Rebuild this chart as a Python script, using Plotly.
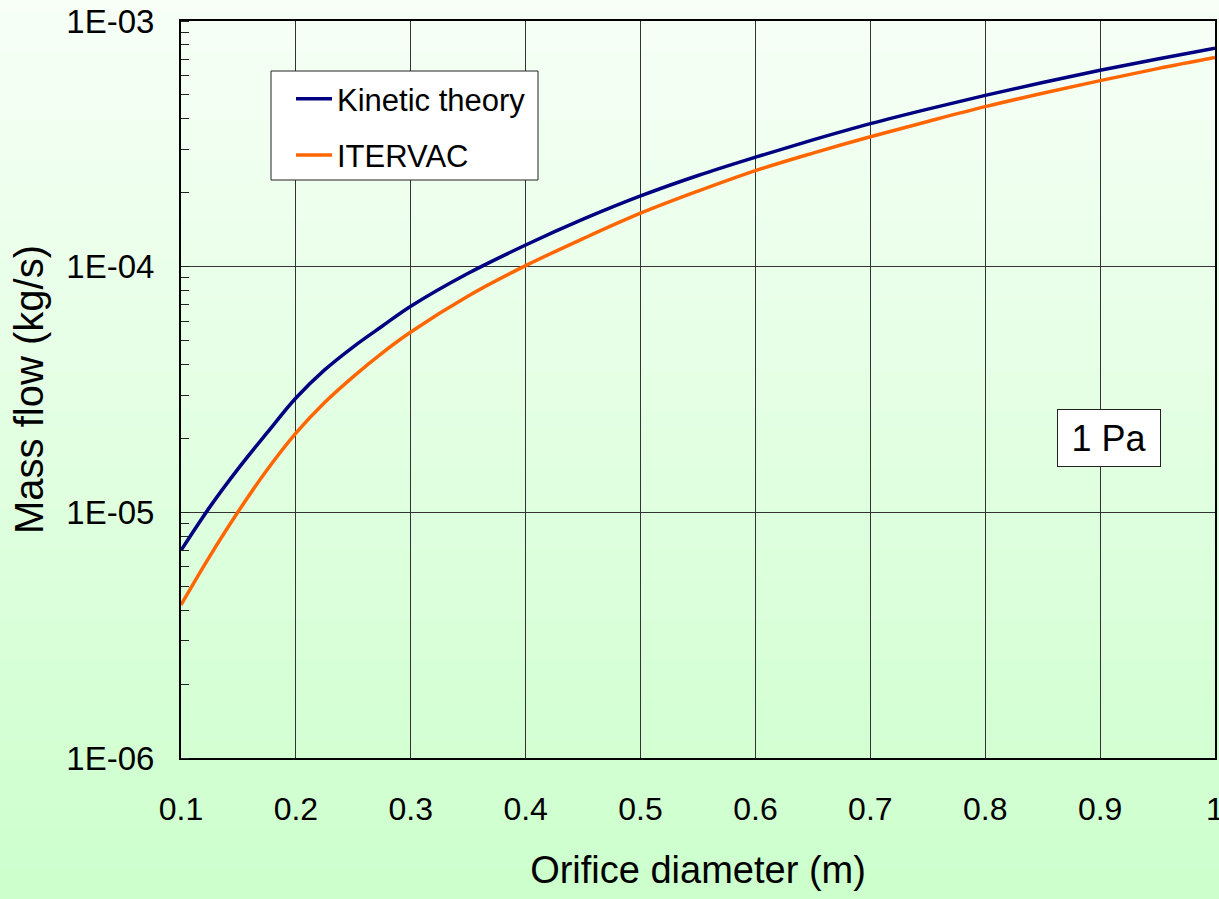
import plotly.graph_objects as go

# ---- data ----
diameter = [0.1, 0.125, 0.15, 0.175, 0.2, 0.225, 0.25, 0.275, 0.3, 0.35, 0.4, 0.45,
            0.5, 0.55, 0.6, 0.65, 0.7, 0.75, 0.8, 0.85, 0.9, 0.95, 1.0]
kinetic = [7.0e-6, 1.05e-5, 1.51e-5, 2.11e-5, 2.92e-5, 3.8e-5, 4.72e-5, 5.72e-5, 6.9e-5,
           9.4e-5, 1.225e-4, 1.56e-4, 1.94e-4, 2.35e-4, 2.79e-4, 3.28e-4, 3.82e-4,
           4.38e-4, 4.98e-4, 5.62e-4, 6.3e-4, 7.0e-4, 7.74e-4]
itervac = [4.2e-6, 6.62e-6, 1.01e-5, 1.49e-5, 2.1e-5, 2.8e-5, 3.57e-5, 4.45e-5, 5.42e-5,
           7.6e-5, 1.01e-4, 1.3e-4, 1.65e-4, 2.03e-4, 2.46e-4, 2.9e-4, 3.38e-4,
           3.9e-4, 4.48e-4, 5.08e-4, 5.72e-4, 6.4e-4, 7.1e-4]
series_names = ["Kinetic theory", "ITERVAC"]
x_tickvals = [0.1, 0.2, 0.3, 0.4, 0.5, 0.6, 0.7, 0.8, 0.9, 1.0]
x_ticktext = ["0.1", "0.2", "0.3", "0.4", "0.5", "0.6", "0.7", "0.8", "0.9", "1"]
y_tickvals = [1e-6, 1e-5, 1e-4, 1e-3]
y_ticktext = ["1E-06", "1E-05", "1E-04", "1E-03"]
annotation_text = "1 Pa"

W, H = 1219, 899
ML, MR, MT, MB = 181, 4, 21, 141
PW, PH = W - ML - MR, H - MT - MB

FONT = "Liberation Sans, Arial, sans-serif"


def px_x(px):
    return (px - ML) / PW


def px_y(py):
    return (H - MB - py) / PH


fig = go.Figure()
fig.add_trace(go.Scatter(x=diameter, y=kinetic, name=series_names[0], mode="lines",
                         line=dict(color="#000080", width=3.5, shape="spline"),
                         legendgroup="a"))
fig.add_trace(go.Scatter(x=diameter, y=itervac, name=series_names[1], mode="lines",
                         line=dict(color="#ff6600", width=3.5, shape="spline"),
                         legendgroup="b"))

# background gradient (white-green to light green), as horizontal bands
shapes = []
nb = 90
top = (247, 255, 247)
bot = (204, 255, 204)
for i in range(nb):
    t = (i + 0.5) / nb
    c = tuple(round(top[k] + (bot[k] - top[k]) * t) for k in range(3))
    py0 = i * H / nb
    py1 = (i + 1) * H / nb + 1
    shapes.append(dict(type="rect", xref="paper", yref="paper", layer="below",
                       x0=px_x(0), x1=px_x(W), y0=px_y(py1), y1=px_y(py0),
                       fillcolor="rgb(%d,%d,%d)" % c, line=dict(width=0)))
# legend frame (white box behind the legend entries)
shapes.append(dict(type="rect", xref="paper", yref="paper", layer="above",
                   x0=px_x(271), x1=px_x(538), y0=px_y(180), y1=px_y(71),
                   fillcolor="white", line=dict(color="#222", width=1)))
fig.update_layout(shapes=shapes)

fig.update_layout(
    width=W, height=H,
    margin=dict(l=ML, r=MR, t=MT, b=MB, pad=0, autoexpand=False),
    paper_bgcolor="rgba(0,0,0,0)",
    plot_bgcolor="rgba(0,0,0,0)",
    font=dict(family=FONT, color="black"),
    showlegend=True,
    legend=dict(x=px_x(291), y=px_y(72), xanchor="left", yanchor="top",
                bgcolor="rgba(0,0,0,0)", borderwidth=0,
                font=dict(size=31, family=FONT), traceorder="grouped",
                tracegroupgap=13, itemwidth=36),
    xaxis=dict(range=[0.1, 1.0], tickvals=x_tickvals, ticktext=x_ticktext, showgrid=True,
               gridcolor="#333333", gridwidth=1, showline=True, linecolor="black",
               linewidth=2, mirror=True, zeroline=False, ticks="", automargin=False,
               tickfont=dict(size=32), ticklabelstandoff=22, ticklabeloverflow="allow",
               title=dict(text="Orifice diameter (m)", font=dict(size=38), standoff=30)),
    yaxis=dict(type="log", range=[-6, -3], tickvals=y_tickvals, ticktext=y_ticktext,
               showgrid=True, gridcolor="#333333", gridwidth=1, showline=True,
               linecolor="black", linewidth=2, mirror=True, zeroline=False, ticks="",
               automargin=False,
               tickfont=dict(size=33), ticklabelstandoff=18,
               minor=dict(ticks="inside", ticklen=8, tickcolor="#222", tickwidth=1,
                          dtick="D1", showgrid=False),
               title=dict(text="Mass flow (kg/s)", font=dict(size=40), standoff=10)),
    annotations=[dict(text=annotation_text, xref="paper", yref="paper",
                      x=px_x(1109), y=px_y(438), showarrow=False,
                      font=dict(size=36, family=FONT), bgcolor="white",
                      bordercolor="#222", borderwidth=1, width=100, height=54,
                      xanchor="center", yanchor="middle")],
)

fig.write_html("out.html")
